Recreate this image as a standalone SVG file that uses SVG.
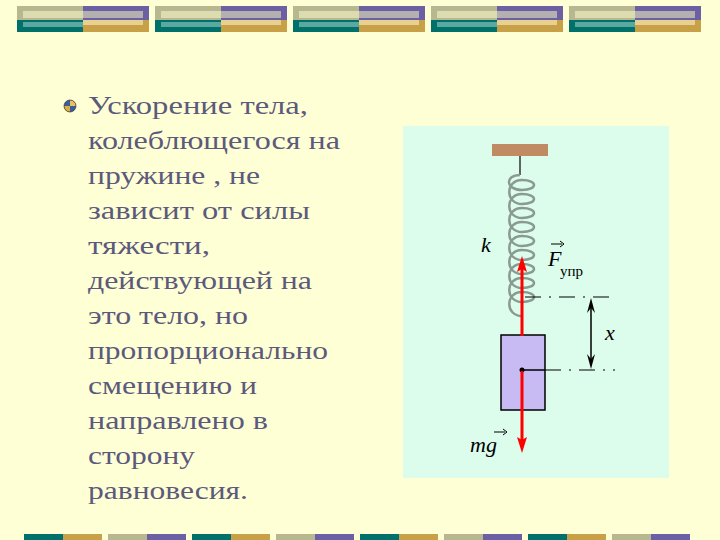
<svg xmlns="http://www.w3.org/2000/svg" width="720" height="540" viewBox="0 0 720 540">
<defs>
<style>
.t{font-family:"Liberation Serif",serif;font-size:25px;fill:#5c5a7c}
.i{font-family:"Liberation Serif",serif;font-style:italic;font-size:22px;fill:#000}
.tl{fill:#00706a}.gd{fill:#c8a048}.kh{fill:#b8b890}.pu{fill:#6c60a4}
.ra{fill:#f00}.ka{fill:#000}
</style>
<g id="tb">
<rect x="0" y="6" width="66" height="14" class="kh"/><rect x="6" y="11" width="60" height="7" fill="#dcdcb0"/>
<rect x="0" y="20" width="66" height="12" class="tl"/><rect x="6" y="22" width="60" height="5" fill="#5aa8a0"/>
<rect x="66" y="6" width="66" height="14" class="pu"/><rect x="66" y="11" width="60" height="7" fill="#b4b0b0"/>
<rect x="66" y="20" width="66" height="12" class="gd"/><rect x="66" y="20" width="60" height="5" fill="#e8d090"/>
</g>
<g id="bb">
<rect x="0" y="534" width="39" height="6" class="tl"/><rect x="39" y="534" width="39" height="6" class="gd"/>
<rect x="84" y="534" width="39" height="6" class="kh"/><rect x="123" y="534" width="39" height="6" class="pu"/>
</g>
</defs>
<rect width="720" height="540" fill="#ffffd6"/>
<use href="#tb" x="17"/><use href="#tb" x="155"/><use href="#tb" x="293"/><use href="#tb" x="431"/><use href="#tb" x="569"/>
<use href="#bb" x="24"/><use href="#bb" x="192"/><use href="#bb" x="360"/><use href="#bb" x="528"/>
<g id="bullet"><circle cx="70" cy="106" r="6" fill="#3c5c9c"/><path d="M70,100A6,6 0 0 1 76,106H70z" fill="#e8c060"/><path d="M64,106A6,6 0 0 0 70,112V106z" fill="#d8b040"/><circle cx="70" cy="106" r="6" fill="none" stroke="#333" stroke-width="0.7"/></g>
<text class="t" x="88" y="114" textLength="220" lengthAdjust="spacingAndGlyphs">Ускорение тела,</text>
<text class="t" x="88" y="149" textLength="252" lengthAdjust="spacingAndGlyphs">колеблющегося на</text>
<text class="t" x="88" y="184" textLength="172" lengthAdjust="spacingAndGlyphs">пружине , не</text>
<text class="t" x="88" y="219" textLength="222" lengthAdjust="spacingAndGlyphs">зависит от силы</text>
<text class="t" x="88" y="254" textLength="122" lengthAdjust="spacingAndGlyphs">тяжести,</text>
<text class="t" x="88" y="289" textLength="224" lengthAdjust="spacingAndGlyphs">действующей на</text>
<text class="t" x="88" y="324" textLength="160" lengthAdjust="spacingAndGlyphs">это тело, но</text>
<text class="t" x="88" y="359" textLength="240" lengthAdjust="spacingAndGlyphs">пропорционально</text>
<text class="t" x="88" y="394" textLength="169" lengthAdjust="spacingAndGlyphs">смещению и</text>
<text class="t" x="88" y="429" textLength="180" lengthAdjust="spacingAndGlyphs">направлено в</text>
<text class="t" x="88" y="464" textLength="107" lengthAdjust="spacingAndGlyphs">сторону</text>
<text class="t" x="88" y="499" textLength="160" lengthAdjust="spacingAndGlyphs">равновесия.</text>
<rect x="403" y="126" width="266" height="352" fill="#dcfcec"/>
<g id="ceiling"><rect x="492" y="144" width="56" height="12" fill="#c08a62"/><line x1="520" y1="156" x2="520" y2="175" stroke="#333" stroke-width="1.5"/></g>
<g id="spring" fill="none" stroke="#8a9a92" stroke-width="2.5">
<path d="M520,175 C505,175 505,190 522,190 C538,190 538,180 522,180 C505,180 505,204 522,204 C538,204 538,194 522,194 C505,194 505,218 522,218 C538,218 538,208 522,208 C505,208 505,232 522,232 C538,232 538,222 522,222 C505,222 505,246 522,246 C538,246 538,236 522,236 C505,236 505,260 522,260 C538,260 538,250 522,250 C505,250 505,274 522,274 C538,274 538,264 522,264 C505,264 505,288 522,288 C538,288 538,278 522,278 C505,278 505,302 522,302 C538,302 538,292 522,292 C505,292 505,316 522,316"/>
</g>
<g id="block"><rect x="501" y="335" width="44" height="75" fill="#c8baf2" stroke="#000" stroke-width="1.5"/><circle cx="522" cy="370" r="2.5" fill="#000"/><line x1="522" y1="370" x2="545" y2="370" stroke="#000" stroke-width="1.5"/></g>
<g id="connectors">
<line x1="522" y1="336" x2="522" y2="268" stroke="#f00" stroke-width="3"/>
<path class="ra" d="M522,256L527,272L522,269L517,272z"/>
<line x1="522" y1="371" x2="522" y2="440" stroke="#f00" stroke-width="3"/>
<path class="ra" d="M522,453L527,437L522,440L517,437z"/>
<line x1="525" y1="297" x2="615" y2="297" stroke="#000" stroke-dasharray="16,8,2,8"/>
<line x1="545" y1="370" x2="615" y2="370" stroke="#000" stroke-dasharray="16,8,2,8"/>
<line x1="591" y1="302" x2="591" y2="365" stroke="#000" stroke-width="1.5"/>
<path class="ka" d="M591,298L595,313L591,308L587,313z"/>
<path class="ka" d="M591,369L595,354L591,359L587,354z"/>
</g>
<text class="i" x="481" y="252">k</text>
<text class="i" x="548" y="266">F</text><line x1="551" y1="244" x2="562" y2="244" stroke="#000"/><path d="M560,241L564,244L560,247" fill="none" stroke="#000"/>
<text x="560" y="276" font-family="Liberation Serif,serif" font-size="15" fill="#000">упр</text>
<text class="i" x="605" y="340">x</text>
<text class="i" x="470" y="452">mg</text><line x1="494" y1="432" x2="505" y2="432" stroke="#000"/><path d="M503,429L507,432L503,435" fill="none" stroke="#000"/>
</svg>
